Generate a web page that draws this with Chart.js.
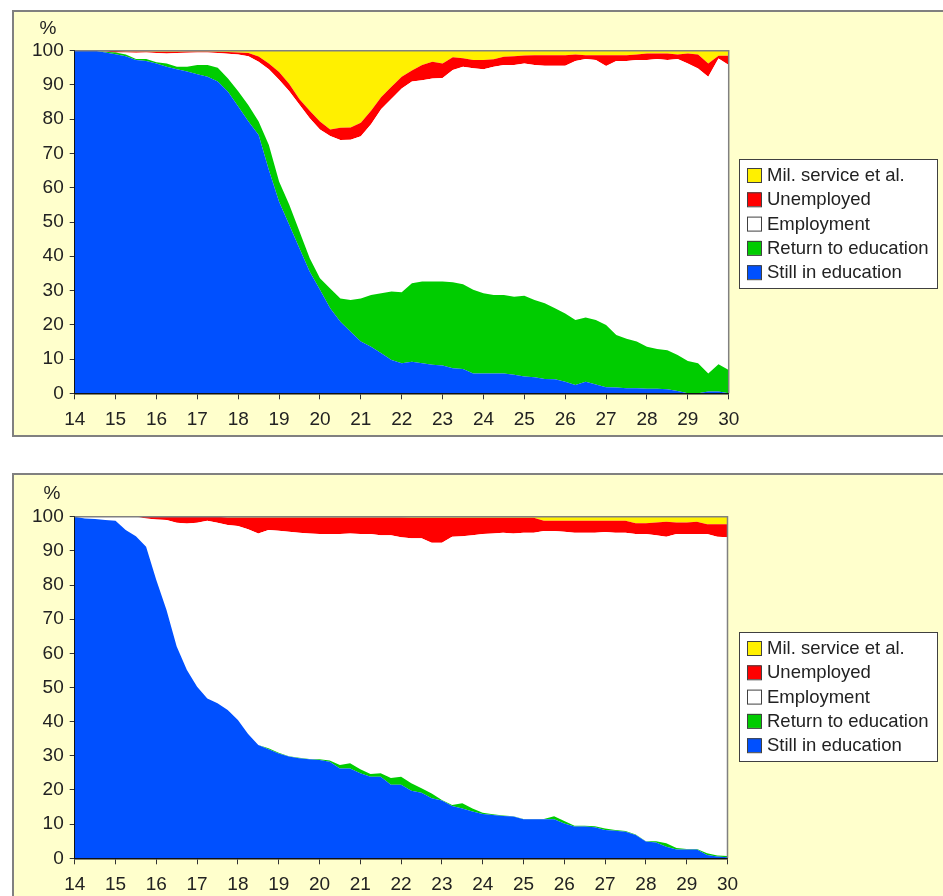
<!DOCTYPE html>
<html>
<head>
<meta charset="utf-8">
<script src="https://cdn.jsdelivr.net/npm/chart.js@4/dist/chart.umd.min.js"></script>
<style>
  body { margin: 0; background: #fff; }
  .panel { position: absolute; left: 12px; width: 940px; height: 427px; box-sizing: border-box;
           border: 2px solid #808080; background: #ffffcc; }
  #p1 { top: 10px; }
  #p2 { top: 473px; }
  canvas { position: absolute; left: 0; top: 0; }
</style>
</head>
<body>
<div class="panel" id="p1"><canvas id="chart1" width="926" height="423"></canvas></div>
<div class="panel" id="p2"><canvas id="chart2" width="926" height="423"></canvas></div>
<script>
// age (years), quarterly
const ages = [14, 14.25, 14.5, 14.75, 15, 15.25, 15.5, 15.75, 16, 16.25, 16.5, 16.75, 17, 17.25, 17.5, 17.75,
  18, 18.25, 18.5, 18.75, 19, 19.25, 19.5, 19.75, 20, 20.25, 20.5, 20.75, 21, 21.25, 21.5, 21.75,
  22, 22.25, 22.5, 22.75, 23, 23.25, 23.5, 23.75, 24, 24.25, 24.5, 24.75, 25, 25.25, 25.5, 25.75,
  26, 26.25, 26.5, 26.75, 27, 27.25, 27.5, 27.75, 28, 28.25, 28.5, 28.75, 29, 29.25, 29.5, 29.75, 30];

const seriesNames = ['Still in education', 'Return to education', 'Employment', 'Unemployed', 'Mil. service et al.'];
const seriesColors = ['#0050ff', '#00cc00', '#ffffff', '#ff0000', '#fff000'];

// upper panel (%)
const stillEdu1 = [100, 100, 100, 99.5, 99, 98.4, 97.3, 97, 96.3, 95.3, 94.6, 93.9, 93.1, 92.4, 91, 88,
  83.7, 79.3, 75.4, 65.2, 55.9, 49.1, 42.3, 35.5, 30.2, 24.8, 20.9, 18, 15.1, 13.6, 11.7, 9.7,
  8.8, 9.2, 8.8, 8.3, 8.1, 7.3, 7.1, 5.8, 5.8, 5.8, 5.8, 5.4, 4.9, 4.7, 4.2, 4.1,
  3.4, 2.4, 3.4, 2.6, 1.8, 1.7, 1.5, 1.5, 1.3, 1.3, 1.2, 0.7, 0, 0, 0.5, 0.5, 0];
const returnEdu1 = [0, 0, 0, 0.2, 0.5, 0.5, 0.3, 0.6, 0.3, 1.0, 0.7, 1.4, 2.7, 3.4, 4.0, 3.9,
  4.5, 4.8, 3.9, 7.3, 5.9, 5.9, 4.9, 3.9, 3.4, 5.8, 6.8, 9.2, 12.6, 15.1, 17.5, 20.0,
  20.7, 22.9, 23.8, 24.3, 24.5, 25.1, 24.7, 24.4, 23.4, 22.9, 22.9, 22.8, 23.6, 22.5, 22.1, 20.7,
  19.9, 19.0, 18.7, 18.8, 18.1, 15.3, 14.4, 13.6, 12.3, 11.6, 11.4, 10.5, 9.4, 8.8, 5.3, 8.0, 6.8];
const employment1 = [0, 0, 0, 0.1, 0, 0.6, 1.8, 1.9, 2.7, 2.9, 4.0, 4.1, 3.7, 3.7, 4.3, 7.2,
  10.7, 14.3, 17.5, 22.1, 29.7, 33.2, 37.0, 40.9, 43.4, 44.5, 46.2, 46.8, 47.3, 49.8, 53.8, 56.3,
  59.5, 58.9, 58.8, 59.3, 59.4, 62.0, 63.5, 64.7, 65.4, 66.6, 67.1, 67.6, 67.8, 68.6, 69.3, 70.8,
  72.3, 75.6, 75.5, 75.9, 75.6, 80.0, 81.1, 82.2, 83.7, 84.7, 84.7, 86.4, 86.9, 86.0, 86.6, 89.2, 89.0];
const unemployed1 = [0, 0, 0, 0.2, 0.4, 0.3, 0.4, 0.3, 0.4, 0.5, 0.4, 0.4, 0.3, 0.3, 0.4, 0.5,
  0.6, 0.9, 1.5, 1.7, 2.3, 2.1, 1.6, 2.2, 2.3, 1.9, 3.6, 3.6, 4.0, 4.0, 3.5, 3.5,
  3.4, 3.2, 4.4, 4.9, 4.3, 3.7, 2.5, 2.4, 2.7, 2.2, 2.4, 2.6, 2.3, 2.9, 3.1, 3.1,
  3.1, 1.9, 1.1, 1.4, 3.2, 1.7, 1.7, 1.6, 1.9, 1.6, 1.9, 1.3, 2.9, 4.1, 3.9, 0.8, 2.7];
const milService1 = [0, 0, 0, 0, 0.1, 0.2, 0.2, 0.2, 0.3, 0.3, 0.3, 0.2, 0.2, 0.2, 0.3, 0.4,
  0.5, 0.7, 1.7, 3.7, 6.2, 9.7, 14.2, 17.5, 20.7, 23.0, 22.5, 22.4, 21.0, 17.5, 13.5, 10.5,
  7.6, 5.8, 4.2, 3.2, 3.7, 1.9, 2.2, 2.7, 2.7, 2.5, 1.8, 1.6, 1.4, 1.3, 1.3, 1.3,
  1.3, 1.1, 1.3, 1.3, 1.3, 1.3, 1.3, 1.1, 0.8, 0.8, 0.8, 1.1, 0.8, 1.1, 3.7, 1.5, 1.5];

// lower panel (%)
const stillEdu2 = [100, 99.5, 99.3, 99, 98.8, 96.1, 94.3, 91.2, 81.5, 72.7, 62, 55.1, 50.2, 46.8, 45.4, 43.4,
  40.5, 36.4, 33.2, 31.9, 30.7, 29.8, 29.3, 29.0, 28.8, 28.3, 26.3, 26.3, 24.9, 23.9, 23.9, 21.5,
  21.5, 19.8, 19.2, 17.6, 16.9, 15.3, 14.6, 13.7, 13.0, 12.7, 12.4, 12.2, 11.4, 11.4, 11.4, 11.4,
  10.2, 9.3, 9.3, 9.1, 8.3, 8.1, 7.8, 6.8, 4.9, 4.6, 3.4, 2.6, 2.6, 2.6, 1.0, 0.5, 0.3];
const returnEdu2 = [0, 0, 0, 0, 0, 0, 0, 0, 0, 0, 0, 0, 0, 0, 0, 0,
  0, 0, 0, 0.3, 0.2, 0.1, 0.1, 0.1, 0.2, 0.3, 1.0, 1.5, 1.2, 0.8, 1.0, 2.0,
  2.4, 2.2, 1.3, 1.4, 0.2, 0.3, 1.5, 0.9, 0.3, 0.2, 0.1, 0.1, 0.1, 0.1, 0.1, 0.9,
  0.7, 0.2, 0.2, 0.3, 0.4, 0.2, 0.2, 0.2, 0.1, 0.4, 1.0, 0.4, 0.1, 0.1, 0.5, 0.3, 0.4];
const employment2 = [0, 0.5, 0.7, 1.0, 1.2, 3.9, 5.7, 8.3, 17.7, 26.3, 36.2, 42.9, 48.0, 52.0, 52.8, 54.2,
  56.8, 59.9, 61.9, 63.9, 65.0, 65.7, 65.9, 66.0, 65.9, 66.3, 67.6, 67.3, 68.8, 70.2, 69.7, 71.1,
  70.1, 71.7, 73.2, 73.4, 75.3, 78.5, 78.2, 80.0, 81.6, 82.2, 82.8, 82.8, 83.8, 83.8, 84.3, 83.5,
  84.7, 85.8, 85.8, 85.9, 86.8, 87.0, 87.3, 87.9, 89.9, 89.6, 89.7, 91.9, 92.2, 92.2, 93.4, 93.3, 93.3];
const unemployed2 = [0, 0, 0, 0, 0, 0, 0, 0.5, 0.8, 1.0, 1.8, 2.0, 1.8, 1.2, 1.8, 2.2,
  2.5, 3.5, 4.7, 3.7, 3.9, 4.2, 4.5, 4.7, 4.9, 4.9, 4.9, 4.7, 4.9, 4.9, 5.2, 5.2,
  5.8, 6.0, 6.0, 7.3, 7.3, 5.6, 5.4, 5.1, 4.8, 4.6, 4.4, 4.6, 4.4, 4.4, 3.0, 3.0,
  3.2, 3.5, 3.5, 3.5, 3.3, 3.5, 3.5, 3.2, 3.2, 3.7, 4.4, 3.4, 3.4, 3.6, 2.9, 3.7, 3.8];
const milService2 = [0, 0, 0, 0, 0, 0, 0, 0, 0, 0, 0, 0, 0, 0, 0, 0.2,
  0.2, 0.2, 0.2, 0.2, 0.2, 0.2, 0.2, 0.2, 0.2, 0.2, 0.2, 0.2, 0.2, 0.2, 0.2, 0.2,
  0.2, 0.3, 0.3, 0.3, 0.3, 0.3, 0.3, 0.3, 0.3, 0.3, 0.3, 0.3, 0.3, 0.3, 1.2, 1.2,
  1.2, 1.2, 1.2, 1.2, 1.2, 1.2, 1.2, 1.9, 1.9, 1.7, 1.5, 1.7, 1.7, 1.5, 2.2, 2.2, 2.2];

const FONT = '"Liberation Sans", Arial, Helvetica, sans-serif';

// plot frame: white plot area, grey top/right edge
const framePlugin = {
  id: 'frame',
  beforeDraw(chart) {
    const a = chart.chartArea, ctx = chart.ctx;
    ctx.save();
    ctx.fillStyle = '#ffffff';
    ctx.fillRect(a.left, a.top, a.right - a.left, a.bottom - a.top);
    ctx.restore();
  },
  afterDraw(chart) {
    const a = chart.chartArea, ctx = chart.ctx;
    ctx.save();
    ctx.strokeStyle = '#808080';
    ctx.lineWidth = 1.5;
    ctx.beginPath();
    ctx.moveTo(a.left, a.top);
    ctx.lineTo(a.right, a.top);
    ctx.lineTo(a.right, a.bottom);
    ctx.stroke();
    // "%" unit above the y axis
    ctx.fillStyle = '#222';
    ctx.font = '19px ' + FONT;
    ctx.textAlign = 'center';
    ctx.textBaseline = 'middle';
    const o = chart.options.plugins.frame;
    ctx.fillText('%', o.unitX, o.unitY);
    ctx.restore();
  }
};

// boxed legend at the right
const boxLegend = {
  id: 'boxLegend',
  afterDraw(chart) {
    const o = chart.options.plugins.boxLegend;
    const ctx = chart.ctx;
    ctx.save();
    ctx.fillStyle = '#ffffff';
    ctx.fillRect(o.x, o.y, o.w, o.h);
    ctx.strokeStyle = '#404040';
    ctx.lineWidth = 1;
    ctx.strokeRect(o.x + 0.5, o.y + 0.5, o.w, o.h);
    ctx.font = '18.5px ' + FONT;
    ctx.textBaseline = 'middle';
    const ds = chart.data.datasets.slice().reverse();
    ds.forEach((d, i) => {
      const cy = o.y + 16 + i * 24.3;
      ctx.fillStyle = d.backgroundColor;
      ctx.fillRect(o.x + 8, cy - 7, 14, 14);
      ctx.strokeStyle = '#404040';
      ctx.strokeRect(o.x + 8.5, cy - 6.5, 14, 14);
      ctx.fillStyle = '#222';
      ctx.fillText(d.label, o.x + 28, cy + 1);
    });
    ctx.restore();
  }
};

function makeChart(id, values, lay) {
  const datasets = values.map((v, i) => ({
    label: seriesNames[i],
    data: v,
    backgroundColor: seriesColors[i],
    borderColor: 'transparent',
    borderWidth: 0,
    pointRadius: 0,
    tension: 0,
    fill: i === 0 ? 'origin' : '-1'
  }));
  return new Chart(document.getElementById(id), {
    type: 'line',
    data: { labels: ages, datasets: datasets },
    plugins: [framePlugin, boxLegend],
    options: {
      responsive: false,
      animation: false,
      events: [],
      layout: { padding: { left: 0, top: lay.top, right: 926 - lay.right, bottom: 0 } },
      scales: {
        x: {
          type: 'linear', min: 14, max: 30,
          grid: { drawOnChartArea: false, drawTicks: true, tickLength: 6, color: '#333' },
          border: { display: true, color: '#111', width: 1.5 },
          ticks: { stepSize: 1, autoSkip: false, maxRotation: 0, padding: 9, color: '#222', font: { family: FONT, size: 19 } },
          afterFit(s) { s.height = 423 - lay.bottom; }
        },
        y: {
          stacked: true, min: 0, max: 100,
          grid: { drawOnChartArea: false, drawTicks: true, tickLength: 5, color: '#333' },
          border: { display: true, color: '#111', width: 1.5 },
          ticks: { stepSize: 10, padding: 6, color: '#222', font: { family: FONT, size: 19 } },
          afterFit(s) { s.width = 60.7; }
        }
      },
      plugins: {
        legend: { display: false },
        tooltip: { enabled: false },
        filler: { propagate: false },
        frame: { unitX: lay.unitX, unitY: lay.unitY },
        boxLegend: lay.legend
      }
    }
  });
}

makeChart('chart1', [stillEdu1, returnEdu1, employment1, unemployed1, milService1],
  { top: 38.7, bottom: 381.3, right: 714.7, unitX: 34, unitY: 17,
    legend: { x: 725, y: 147, w: 198, h: 129 } });
makeChart('chart2', [stillEdu2, returnEdu2, employment2, unemployed2, milService2],
  { top: 41.7, bottom: 383.3, right: 713.5, unitX: 38, unitY: 19,
    legend: { x: 725, y: 157, w: 198, h: 129 } });
</script>
</body>
</html>
